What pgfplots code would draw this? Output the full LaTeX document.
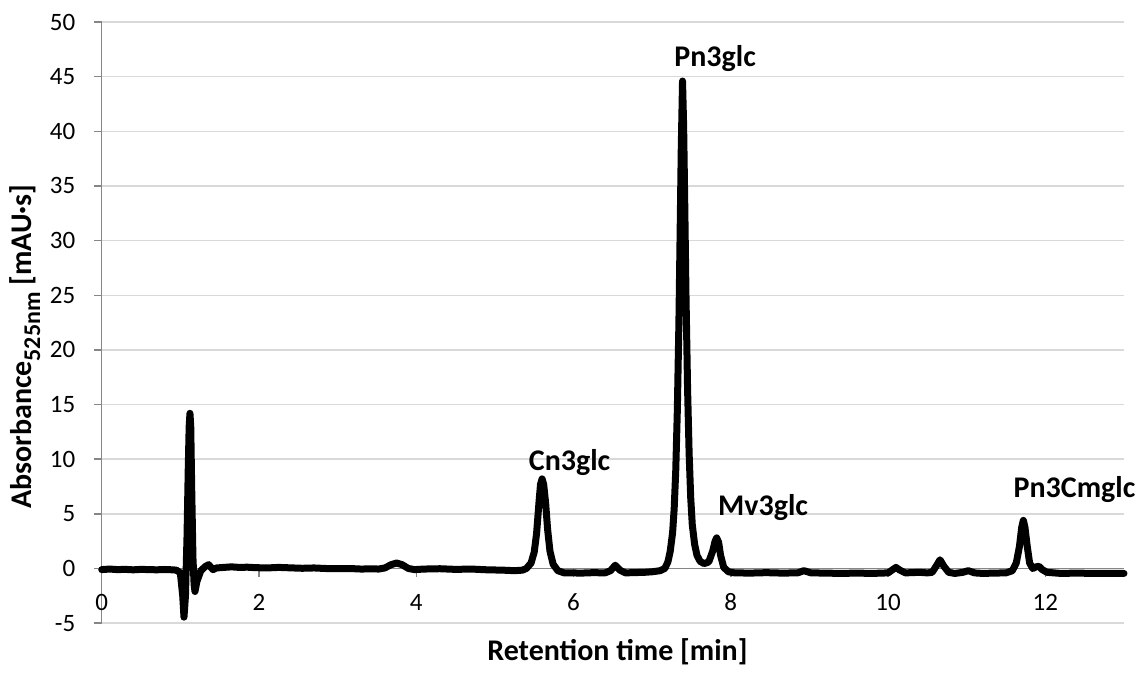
\documentclass[border=0pt]{standalone}
\usepackage{pgfplots}
\pgfplotsset{compat=1.18}
\usepackage{fontspec}
\setmainfont{Carlito}
\usetikzlibrary{calc}
\definecolor{axgray}{HTML}{868686}
\definecolor{gridgray}{HTML}{D9D9D9}
\pgfplotstableread{
x y
0.00 -0.10
0.10 -0.05
0.20 -0.10
0.30 -0.08
0.40 -0.12
0.50 -0.08
0.60 -0.10
0.70 -0.12
0.80 -0.09
0.90 -0.12
0.95 -0.15
1.00 -0.40
1.03 -2.50
1.046 -4.45
1.065 -2.50
1.085 3.00
1.100 9.00
1.112 13.00
1.122 14.20
1.132 13.00
1.145 7.00
1.160 1.00
1.175 -1.50
1.186 -2.10
1.21 -1.20
1.26 -0.20
1.32 0.20
1.36 0.35
1.39 0.10
1.415 -0.10
1.46 0.05
1.55 0.10
1.65 0.15
1.75 0.10
1.85 0.12
1.95 0.08
2.10 0.05
2.25 0.10
2.40 0.06
2.55 0.02
2.70 0.05
2.85 0.00
3.00 -0.02
3.15 0.00
3.30 -0.05
3.45 -0.03
3.52 -0.05
3.60 0.05
3.68 0.35
3.75 0.50
3.82 0.35
3.90 0.00
3.98 -0.10
4.10 -0.05
4.30 -0.02
4.50 -0.08
4.70 -0.05
4.90 -0.12
5.10 -0.15
5.25 -0.20
5.35 -0.15
5.40 0.00
5.46 0.50
5.50 1.50
5.53 3.20
5.56 6.00
5.58 7.70
5.60 8.20
5.62 7.70
5.645 6.00
5.67 3.60
5.70 1.60
5.74 0.40
5.80 -0.20
5.88 -0.40
5.95 -0.40
6.10 -0.42
6.25 -0.38
6.40 -0.40
6.47 -0.20
6.53 0.30
6.59 -0.15
6.66 -0.40
6.75 -0.38
6.90 -0.35
7.00 -0.30
7.10 -0.20
7.16 0.00
7.20 0.60
7.23 1.60
7.26 3.30
7.28 5.50
7.30 9.00
7.32 14.50
7.34 22.50
7.355 30.50
7.37 38.50
7.386 44.60
7.40 40.50
7.415 33.00
7.43 25.00
7.45 16.50
7.47 10.50
7.49 6.50
7.51 4.00
7.54 2.20
7.57 1.20
7.61 0.65
7.66 0.45
7.72 0.60
7.77 1.60
7.80 2.50
7.82 2.80
7.845 2.40
7.87 1.20
7.91 0.10
7.97 -0.30
8.05 -0.40
8.25 -0.42
8.45 -0.38
8.65 -0.42
8.85 -0.40
8.93 -0.20
9.02 -0.40
9.20 -0.42
9.40 -0.45
9.60 -0.42
9.80 -0.45
10.00 -0.40
10.06 -0.10
10.10 0.10
10.15 -0.15
10.22 -0.40
10.40 -0.35
10.50 -0.40
10.56 -0.35
10.61 0.20
10.66 0.80
10.71 0.20
10.77 -0.35
10.85 -0.45
10.95 -0.35
11.02 -0.20
11.10 -0.40
11.20 -0.45
11.35 -0.42
11.50 -0.40
11.58 -0.20
11.63 0.50
11.67 2.00
11.70 3.80
11.72 4.40
11.74 3.80
11.77 2.00
11.80 0.50
11.84 0.00
11.88 0.15
11.92 0.20
11.96 -0.10
12.02 -0.35
12.20 -0.45
12.40 -0.42
12.60 -0.45
12.80 -0.44
13.00 -0.45
}\chrom
\begin{document}
\begin{tikzpicture}
\begin{axis}[
  scale only axis,
  width=511pt, height=300.5pt,
  xmin=0, xmax=13, ymin=-5, ymax=50,
  enlargelimits=false,
  axis x line*=middle,
  axis y line*=left,
  hide obscured x ticks=false,
  axis line style={axgray, line width=0.75pt},
  xtick={0,2,...,12},
  ytick={-5,0,...,50},
  tick style={axgray, line width=0.75pt},
  major tick length=4pt,
  tick align=outside,
  ymajorgrids,
  grid style={gridgray, line width=0.75pt},
  /pgf/number format/assume math mode=true,
  xticklabel style={font=\fontsize{12.5}{14}\selectfont, anchor=center, yshift=-13pt},
  yticklabel style={font=\fontsize{12.5}{14}\selectfont, anchor=east, inner sep=0pt, xshift=-9pt},
  xlabel={Retention time [min]},
  xlabel style={font=\bfseries\fontsize{15}{18}\selectfont, at={(axis description cs:0.5045,0)}, anchor=center, yshift=-14.5pt},
  ylabel={Absorbance\raisebox{-0.28em}{\fontsize{12}{12}\selectfont 525nm} [mAU·s]},
  ylabel style={font=\bfseries\fontsize{15}{18}\selectfont, at={(axis description cs:-0.075,0.46)}, anchor=center},
  clip=false,
]
\addplot[black, line width=3.5pt, line join=round, line cap=round] table[x=x,y=y] {\chrom};
\node[font=\bfseries\fontsize{15}{18}\selectfont] at (axis cs:5.95,9.7) {Cn3glc};
\node[font=\bfseries\fontsize{15}{18}\selectfont] at (axis cs:7.8,46.7) {Pn3glc};
\node[font=\bfseries\fontsize{15}{18}\selectfont] at (axis cs:8.41,5.55) {Mv3glc};
\node[font=\bfseries\fontsize{15}{18}\selectfont] at (axis cs:12.37,7.2) {Pn3Cmglc};
\end{axis}
\pgfresetboundingbox
\path ($(current axis.south west)+(-50.85pt,-25pt)$) rectangle ($(current axis.north east)+(11.5pt,11pt)$);
\end{tikzpicture}
\end{document}
